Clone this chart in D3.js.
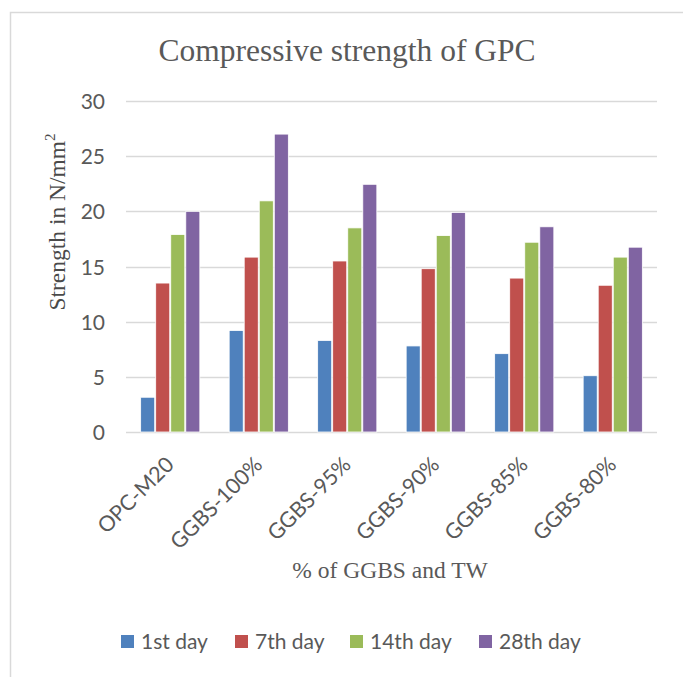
<!DOCTYPE html>
<html>
<head>
<meta charset="utf-8">
<script src="https://cdn.jsdelivr.net/npm/d3@7"></script>
<style>
  html, body { margin: 0; padding: 0; background: #fff; }
  svg { display: block; }
</style>
</head>
<body>
<svg id="chart" width="683" height="677"></svg>
<script>
const categories = ["OPC-M20", "GGBS-100%", "GGBS-95%", "GGBS-90%", "GGBS-85%", "GGBS-80%"];
const seriesNames = ["1st day", "7th day", "14th day", "28th day"];
const day1  = [3.15, 9.2, 8.3, 7.8, 7.1, 5.1];
const day7  = [13.5, 15.85, 15.5, 14.8, 13.95, 13.3];
const day14 = [17.9, 20.95, 18.5, 17.8, 17.2, 15.85];
const day28 = [20.0, 27.0, 22.45, 19.9, 18.6, 16.75];
const yTicks = [0, 5, 10, 15, 20, 25, 30];
const colors = ["#4F81BD", "#C0504D", "#9BBB59", "#8064A2"];

const seriesValues = [day1, day7, day14, day28];
const svg = d3.select("#chart");
const textGray = "#595959";

// chart border
svg.append("rect").attr("x", 10.5).attr("y", 12.5).attr("width", 700).attr("height", 700)
  .attr("fill", "none").attr("stroke", "#D9D9D9").attr("stroke-width", 1.5);

const plot = { left: 126, right: 657, top: 101, bottom: 432 };

const y = d3.scaleLinear().domain([0, 30]).range([plot.bottom, plot.top]);
const x0 = d3.scaleBand().domain(categories).range([plot.left, plot.right])
  .paddingInner(0.32).paddingOuter(0.16);
const x1 = d3.scaleBand().domain(seriesNames).range([0, x0.bandwidth()]).padding(0);

// gridlines
svg.append("g").selectAll("line").data(yTicks).join("line")
  .attr("x1", plot.left).attr("x2", plot.right)
  .attr("y1", d => Math.round(y(d)) + 0.5).attr("y2", d => Math.round(y(d)) + 0.5)
  .attr("stroke", "#D9D9D9").attr("stroke-width", 1.3);

// y axis labels
const yAxis = d3.axisLeft(y).tickValues(yTicks).tickSize(0).tickPadding(0);
const yg = svg.append("g").attr("transform", `translate(105,0)`).call(yAxis);
yg.select(".domain").remove();
yg.selectAll("text").attr("font-family", "Lato, 'Open Sans', sans-serif")
  .attr("font-size", 21).attr("fill", textGray).attr("dy", "0.36em");

// bars
const groups = svg.append("g").selectAll("g").data(categories).join("g")
  .attr("transform", d => `translate(${x0(d)},0)`);
groups.selectAll("rect")
  .data((c, i) => seriesNames.map((s, k) => ({ s, k, v: seriesValues[k][i] })))
  .join("rect")
  .attr("x", d => x1(d.s) + 0.5)
  .attr("width", x1.bandwidth() - 1)
  .attr("y", d => y(d.v))
  .attr("height", d => y(0) - y(d.v))
  .attr("fill", d => colors[d.k])
  .attr("stroke", "#fff").attr("stroke-width", 0.8);

// x labels
const xAxis = d3.axisBottom(x0).tickSize(0).tickPadding(0);
const xg = svg.append("g").call(xAxis);
xg.select(".domain").remove();
xg.selectAll(".tick").attr("transform", d => `translate(${x0(d) + x0.bandwidth() / 2 + 5},466)`);
xg.selectAll("text")
  .attr("font-family", "Lato, 'Open Sans', sans-serif").attr("font-size", 21.5)
  .attr("fill", textGray).attr("text-anchor", "end").attr("dy", 0).attr("y", 0)
  .attr("transform", "rotate(-45)");

// title
svg.append("text").attr("x", 347).attr("y", 61).attr("text-anchor", "middle")
  .attr("font-family", "'Liberation Serif', 'Times New Roman', serif").attr("font-size", 31.5)
  .attr("fill", textGray).text("Compressive strength of GPC");

// x axis title
svg.append("text").attr("x", 390).attr("y", 578).attr("text-anchor", "middle")
  .attr("font-family", "'Liberation Serif', 'Times New Roman', serif").attr("font-size", 23.5)
  .attr("fill", textGray).text("% of GGBS and TW");

// y axis title
const yt = svg.append("text").attr("transform", "translate(65,222) rotate(-90)")
  .attr("text-anchor", "middle")
  .attr("font-family", "'Liberation Serif', 'Times New Roman', serif").attr("font-size", 23.5)
  .attr("fill", "#4a4a4a");
yt.append("tspan").text("Strength in N/mm");
yt.append("tspan").attr("font-size", 15).attr("dy", -10).text("2");

// legend
const legendX = [121, 235, 350, 479];
const lg = svg.append("g").selectAll("g").data(seriesNames).join("g")
  .attr("transform", (d, i) => `translate(${legendX[i]},635)`);
lg.append("rect").attr("width", 13).attr("height", 13).attr("fill", (d, i) => colors[i]);
lg.append("text").attr("x", 20).attr("y", 14)
  .attr("font-family", "Lato, 'Open Sans', sans-serif").attr("font-size", 21)
  .attr("fill", textGray).text(d => d);
</script>
</body>
</html>
